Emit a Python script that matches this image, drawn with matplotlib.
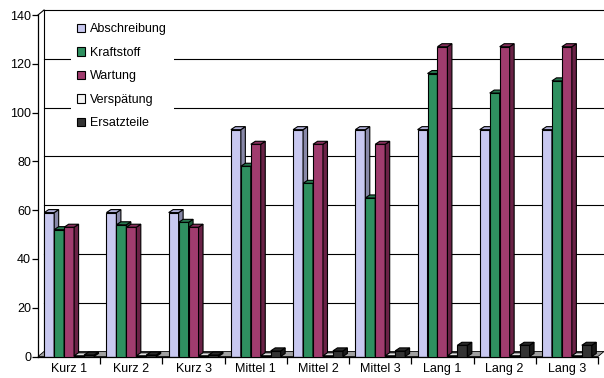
import matplotlib.pyplot as plt
from matplotlib.patches import Polygon, Patch
import numpy as np

plt.rcParams['font.family'] = ['Liberation Sans', 'DejaVu Sans']

# chart data
categories = ['Kurz 1', 'Kurz 2', 'Kurz 3', 'Mittel 1', 'Mittel 2', 'Mittel 3',
              'Lang 1', 'Lang 2', 'Lang 3']
series = ['Abschreibung', 'Kraftstoff', 'Wartung', 'Verspätung', 'Ersatzteile']
abschreibung = [59, 59, 59, 93, 93, 93, 93, 93, 93]
kraftstoff = [52, 54, 55, 78, 71, 65, 116, 108, 113]
wartung = [53, 53, 53, 87, 87, 87, 127, 127, 127]
verspaetung = [0.3, 0.3, 0.3, 0.3, 0.3, 0.3, 0.3, 0.3, 0.3]
ersatzteile = [0.6, 0.6, 0.6, 2.3, 2.3, 2.3, 4.6, 4.6, 4.6]
y_ticks = [0, 20, 40, 60, 80, 100, 120, 140]

values = [abschreibung, kraftstoff, wartung, verspaetung, ersatzteile]
front = ['#c8c8f0', '#2f9060', '#a03c6e', '#f4f4f4', '#333333']
side = ['#8888a8', '#1d5e3c', '#6a2246', '#b0b0b0', '#1a1a1a']
top = ['#b0b0d8', '#27784f', '#882f5c', '#e0e0e0', '#2a2a2a']

W, H = 604, 378
fig = plt.figure(figsize=(W / 100, H / 100), dpi=100)
ax = fig.add_axes([38 / W, 21.5 / H, 560 / W, 341.5 / H])
ax.set_xlim(-0.5, 8.5)
ax.set_ylim(0, 140)

# pixel -> data conversion for the 3D offsets
px_x = 9 / 560
px_y = 140 / 341.5
wall_dx, wall_dy = 6 * px_x, 5 * px_y
bar_dx, bar_dy = 4.5 * px_x, 3 * px_y

x = np.arange(len(categories))
xmax = 8.5 + 6 * px_x

# back wall, gridlines and floor
for v in y_ticks[1:]:
    ax.plot([-0.5 + wall_dx, xmax], [v + wall_dy, v + wall_dy], color='black',
            lw=0.8, clip_on=False, zorder=0)
ax.plot([-0.5 + wall_dx, -0.5 + wall_dx], [wall_dy, 140 + wall_dy], color='black',
        lw=0.8, clip_on=False, zorder=0)
ax.plot([-0.5, -0.5 + wall_dx], [140, 140 + wall_dy], color='black', lw=0.8,
        clip_on=False, zorder=0)
floor = Polygon([(-0.5, 0), (8.5, 0), (8.5 + wall_dx, wall_dy), (-0.5 + wall_dx, wall_dy)],
                closed=True, facecolor='#a0a0a0', edgecolor='black', lw=0.6,
                clip_on=False, zorder=0.5)
ax.add_patch(floor)

bw = 0.16
for j, vals in enumerate(values):
    lefts = x - 0.5 + 0.1 + bw * j
    ax.bar(lefts, vals, width=bw, align='edge', color=front[j], edgecolor='black',
           lw=0.8, zorder=2 + j)
    for l, h in zip(lefts, vals):
        r = l + bw
        ax.add_patch(Polygon([(r, 0), (r + bar_dx, bar_dy), (r + bar_dx, h + bar_dy), (r, h)],
                             closed=True, facecolor=side[j], edgecolor='black', lw=0.8,
                             zorder=2 + j))
        ax.add_patch(Polygon([(l, h), (l + bar_dx, h + bar_dy), (r + bar_dx, h + bar_dy), (r, h)],
                             closed=True, facecolor=top[j], edgecolor='black', lw=0.8,
                             zorder=2 + j))

# axes styling
for s in ['top', 'right']:
    ax.spines[s].set_visible(False)
ax.spines['left'].set_linewidth(0.9)
ax.spines['bottom'].set_linewidth(0.9)
ax.set_yticks(y_ticks)
ax.tick_params(axis='y', length=4, width=0.9, labelsize=9, pad=1)
ax.set_xticks(x)
ax.set_xticklabels(categories)
ax.set_xticks(np.arange(-0.5, 9, 1)[1:], minor=True)
ax.tick_params(axis='x', which='major', length=0, labelsize=9, pad=5)
ax.tick_params(axis='x', which='minor', length=5, width=0.9)
ax.patch.set_alpha(0)

handles = [Patch(facecolor=front[j], edgecolor='black', lw=0.8) for j in range(5)]
leg = ax.legend(handles, series, loc='upper left', bbox_to_anchor=(71 / W, 1 - 17 / H),
                bbox_transform=fig.transFigure, fontsize=9, frameon=True,
                handlelength=0.65, handleheight=0.65, handletextpad=0.4,
                labelspacing=0.92, borderpad=0.5, borderaxespad=0, fancybox=False)
leg.get_frame().set_edgecolor('none')
leg.get_frame().set_facecolor('white')
leg.get_frame().set_alpha(1)
leg.set_zorder(10)

fig.savefig('out.png', dpi=100)
plt.close(fig)
